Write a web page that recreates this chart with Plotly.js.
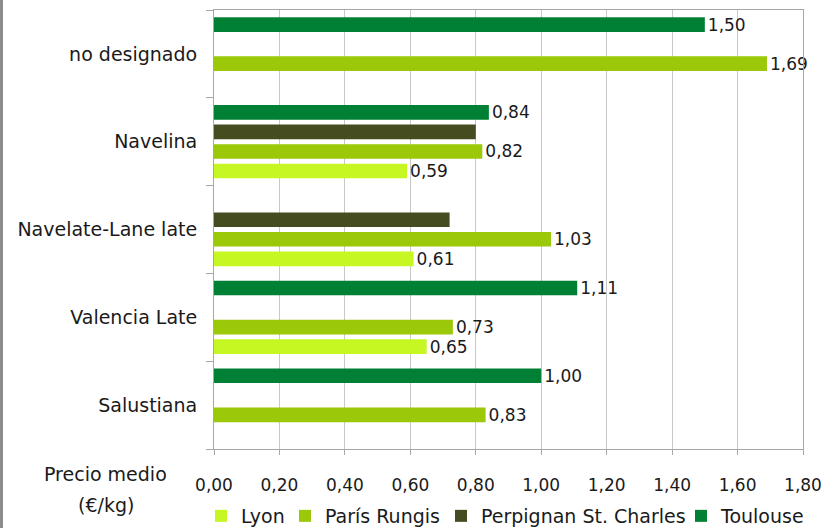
<!DOCTYPE html>
<html>
<head>
<meta charset="utf-8">
<script src="https://cdn.plot.ly/plotly-3.0.1.min.js"></script>
<style>
  html, body { margin: 0; padding: 0; background: #fff; }
  #chart { width: 825px; height: 528px; }
  #edge { position: absolute; left: 0; top: 0; width: 3px; height: 528px; background: #8c8c8c; z-index: 10; }
</style>
</head>
<body>
<div id="edge"></div>
<div id="chart"></div>
<script>
// Varieties, listed bottom to top as they appear on the axis
const varieties = ['Salustiana', 'Valencia Late', 'Navelate-Lane late', 'Navelina', 'no designado'];

// Average price per market (€/kg); null where the market has no quote
const lyon        = [null, 0.65, 0.61, 0.59, null];
const parisRungis = [0.83, 0.73, 1.03, 0.82, 1.69];
const perpignan   = [null, null, 0.72, 0.80, null];
const toulouse    = [1.00, 1.11, null, 0.84, 1.50];

const xTickVals = [0, 0.2, 0.4, 0.6, 0.8, 1.0, 1.2, 1.4, 1.6, 1.8];

const FONT = 'Century Gothic, DejaVu Sans, sans-serif';
const INK = '#1a1a1a';
const fmt = v => (v == null ? '' : v.toFixed(2).replace('.', ','));

// Each market gets its own legend box so the entries sit in one tight row
function series(name, values, color, labelled, legendId) {
  return {
    type: 'bar',
    orientation: 'h',
    name: name,
    legend: legendId,
    y: varieties,
    x: values,
    marker: { color: color },
    text: labelled ? values.map(fmt) : undefined,
    textposition: labelled ? 'outside' : 'none',
    constraintext: 'none',
    textfont: { family: FONT, size: 17, color: INK },
    cliponaxis: false,
    hoverinfo: 'x+name'
  };
}

const data = [
  series('Lyon', lyon, '#c6f723', true, 'legend'),
  series('París Rungis', parisRungis, '#9bc808', true, 'legend2'),
  series('Perpignan St. Charles', perpignan, '#454d20', false, 'legend3'),
  series('Toulouse', toulouse, '#008035', true, 'legend4')
];

function legendAt(px) {
  return {
    orientation: 'h',
    xref: 'container', yref: 'container',
    x: px / 825, xanchor: 'left',
    y: 1 - 516 / 528, yanchor: 'middle',
    font: { family: FONT, size: 19, color: INK },
    bgcolor: 'rgba(0,0,0,0)',
    borderwidth: 0
  };
}

const layout = {
  width: 825,
  height: 528,
  margin: { l: 214, r: 22, t: 10, b: 79, autoexpand: false },
  paper_bgcolor: '#ffffff',
  plot_bgcolor: '#ffffff',
  separators: ', ',
  font: { family: FONT, size: 17, color: INK },
  barmode: 'group',
  bargap: 0.11,
  bargroupgap: 0.25,
  showlegend: true,
  legend: legendAt(201),
  legend2: legendAt(285),
  legend3: legendAt(441),
  legend4: legendAt(681),
  xaxis: {
    range: [0, 1.8],
    tickvals: xTickVals,
    tickformat: '.2f',
    showgrid: true,
    gridcolor: '#c8c8c8',
    gridwidth: 1,
    zeroline: false,
    showline: true,
    linecolor: '#a6a6a6',
    linewidth: 1,
    mirror: true,
    ticks: 'outside',
    ticklen: 5,
    tickcolor: '#a6a6a6',
    ticklabelstandoff: 16,
    tickfont: { family: FONT, size: 17, color: INK },
    fixedrange: true
  },
  yaxis: {
    type: 'category',
    categoryorder: 'array',
    categoryarray: varieties,
    showgrid: false,
    showline: true,
    linecolor: '#a6a6a6',
    linewidth: 1,
    mirror: true,
    ticks: 'outside',
    tickson: 'boundaries',
    ticklen: 7,
    tickcolor: '#a6a6a6',
    ticklabelstandoff: 12,
    tickfont: { family: FONT, size: 19, color: INK },
    fixedrange: true
  },
  annotations: [
    { text: 'Precio medio', xref: 'paper', yref: 'paper', x: -0.1834, y: -0.057,
      xanchor: 'center', yanchor: 'middle', showarrow: false,
      font: { family: FONT, size: 19, color: INK } },
    { text: '(€/kg)', xref: 'paper', yref: 'paper', x: -0.1834, y: -0.1276,
      xanchor: 'center', yanchor: 'middle', showarrow: false,
      font: { family: FONT, size: 19, color: INK } }
  ]
};

Plotly.newPlot('chart', data, layout, { displayModeBar: false, staticPlot: true });
</script>
</body>
</html>
